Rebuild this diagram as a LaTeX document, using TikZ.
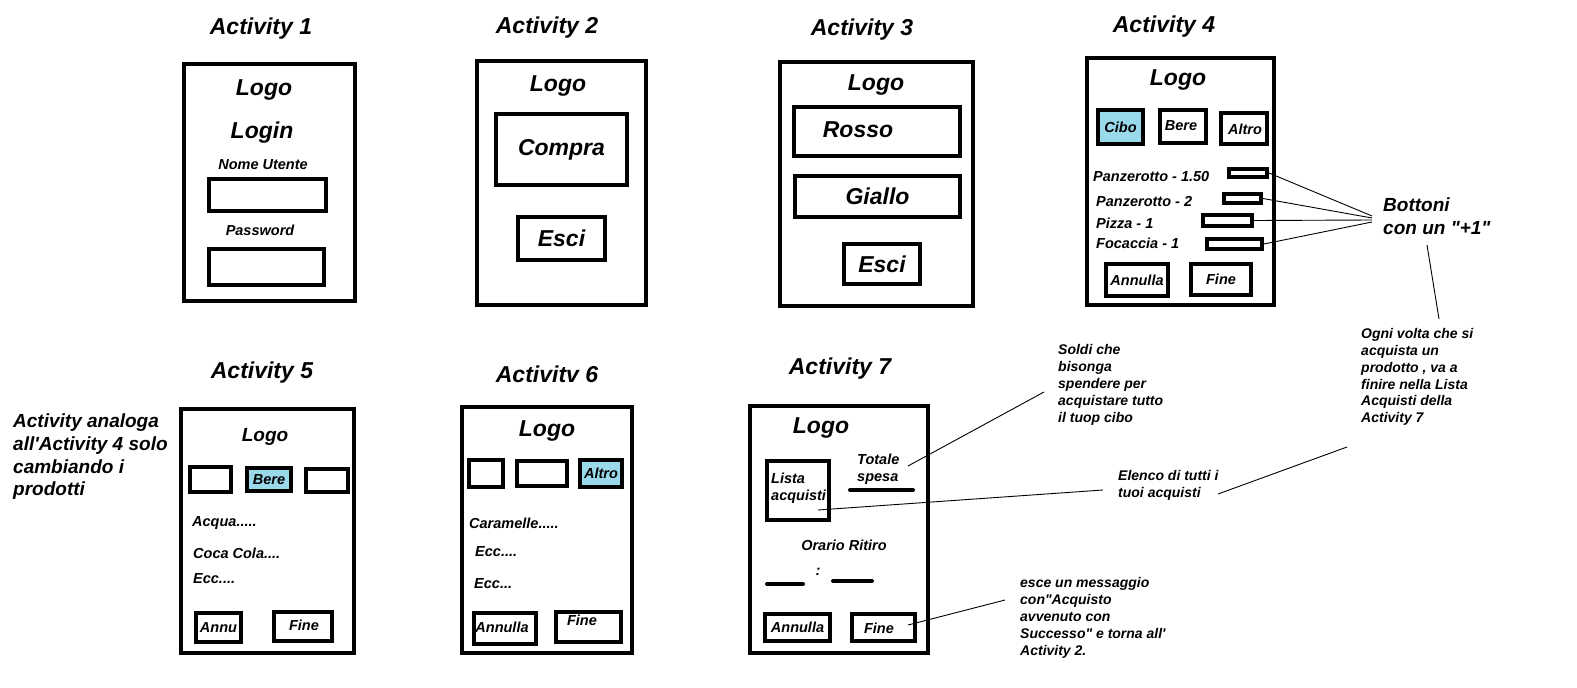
\documentclass[tikz,border=0pt]{standalone}
\usepackage{fontspec}
\setmainfont[Ligatures=TeXOff]{Liberation Sans}
\definecolor{selfill}{HTML}{99D9EA}
\begin{document}
\begin{tikzpicture}[x=1pt,y=-1pt,
  screen/.style={draw, line width=4pt, inner sep=0pt},
  btn/.style={draw, line width=4pt, inner sep=0pt, fill=white, font=\bfseries\itshape\fontsize{14.5}{17}\selectfont},
  bigbtn/.style={btn, font=\bfseries\itshape\fontsize{23}{27}\selectfont},
  selbtn/.style={btn, fill=selfill},
  sm/.style={inner sep=0pt, font=\bfseries\itshape\fontsize{14.5}{17}\selectfont},
  note/.style={inner sep=0pt, align=left, anchor=west, font=\bfseries\itshape\fontsize{14}{16.9}\selectfont},
  mid/.style={inner sep=0pt, font=\bfseries\itshape\fontsize{19}{22.7}\selectfont},
  big/.style={inner sep=0pt, font=\bfseries\itshape\fontsize{23}{27}\selectfont},
  lead/.style={line width=0.9pt},
  bar/.style={line width=4pt, line cap=round}
]
\useasboundingbox (0,0) rectangle (1577,688);

% ---------- Activity 1 ----------
\node[big] (t1) at (261,29) {Activity 1};
\node[screen, minimum width=171pt, minimum height=237pt] (s1) at (269.5,182.5) {};
\node[big] (l1) at (264,90) {Logo};
\node[big] (login) at (262,133) {Login};
\node[sm] (nu) at (263,165) {Nome Utente};
\node[btn, minimum width=117pt, minimum height=32pt] (f1) at (267.5,195) {};
\node[sm] (pw) at (260,230) {Password};
\node[btn, minimum width=115pt, minimum height=36pt] (f2) at (266.5,267) {};

% ---------- Activity 2 ----------
\node[big] (t2) at (547,28) {Activity 2};
\node[screen, minimum width=169pt, minimum height=244pt] (s2) at (561.5,183) {};
\node[big] (l2) at (558,86) {Logo};
\node[bigbtn, minimum width=131pt, minimum height=71pt] (compra) at (561.5,149.5) {Compra};
\node[bigbtn, minimum width=87pt, minimum height=43pt] (esci2) at (561.5,238.5) {Esci};

% ---------- Activity 3 ----------
\node[big] (t3) at (862,30) {Activity 3};
\node[screen, minimum width=193pt, minimum height=244pt] (s3) at (876.5,184) {};
\node[big] (l3) at (876,85) {Logo};
\node[btn, minimum width=166pt, minimum height=49pt] (rosso) at (877,131.5) {};
\node[big] (rossot) at (858,130) {Rosso};
\node[bigbtn, minimum width=165pt, minimum height=41pt] (giallo) at (877.5,196.5) {Giallo};
\node[bigbtn, minimum width=76pt, minimum height=40pt] (esci3) at (882,264) {Esci};

% ---------- Activity 4 ----------
\node[big] (t4) at (1164,27) {Activity 4};
\node[screen, minimum width=187pt, minimum height=247pt] (s4) at (1180.5,181.5) {};
\node[big] (l4) at (1178,80) {Logo};
\node[selbtn, minimum width=45pt, minimum height=34pt] (cibo) at (1120.5,127) {Cibo};
\node[btn, minimum width=46pt, minimum height=33pt] (bere4) at (1183,126.5) {};
\node[sm] (beret) at (1181,126) {Bere};
\node[btn, minimum width=46pt, minimum height=31pt] (altro4) at (1244,128.5) {};
\node[sm] (altrot) at (1245,129) {Altro};
\node[sm, anchor=west] (p1) at (1093,177) {Panzerotto - 1.50};
\node[sm, anchor=west] (p2) at (1096,202) {Panzerotto - 2};
\node[sm, anchor=west] (p3) at (1096,223) {Pizza - 1};
\node[sm, anchor=west] (p4) at (1096,243) {Focaccia - 1};
\node[btn, minimum width=38pt, minimum height=8pt] (b1) at (1248,173) {};
\node[btn, minimum width=37pt, minimum height=9pt] (b2) at (1242.5,198.5) {};
\node[btn, minimum width=49pt, minimum height=11pt] (b3) at (1227.5,220.5) {};
\node[btn, minimum width=55pt, minimum height=10pt] (b4) at (1234.5,244) {};
\node[btn, minimum width=62pt, minimum height=32pt] (ann4) at (1137,280) {Annulla};
\node[btn, minimum width=60pt, minimum height=31pt] (fine4) at (1221,279.5) {Fine};

\node[mid, align=left, anchor=west] (bott) at (1383,216.5) {Bottoni\\con un "+1"};
\coordinate (bc1) at (1372,216);
\coordinate (bc2) at (1372,218);
\coordinate (bc3) at (1372,220);
\coordinate (bc4) at (1372,222);
\draw[lead] (b1.east) -- (bc1);
\draw[lead] (b2.east) -- (bc2);
\draw[lead] (b3.east) -- (bc3);
\draw[lead] (b4.east) -- (bc4);

\node[note] (ogni) at (1361,377) {Ogni volta che si\\acquista un\\prodotto , va a\\finire nella Lista\\Acquisti della\\Activity 7};
\coordinate (bo1) at (1427,245);
\coordinate (bo2) at (1439,319);
\draw[lead] (bo1) -- (bo2);

% ---------- Activity 5 ----------
\node[mid, align=left, anchor=west] (an5) at (13,457) {Activity analoga\\all'Activity 4 solo\\cambiando i\\prodotti};
\node[big] (t5) at (262,373) {Activity 5};
\node[screen, minimum width=173pt, minimum height=244pt] (s5) at (267.5,531) {};
\node[mid] (l5) at (265,437) {Logo};
\node[btn, minimum width=41pt, minimum height=25pt] (c51) at (210.5,479.5) {};
\node[selbtn, minimum width=44pt, minimum height=23pt] (bere5) at (269,479.5) {Bere};
\node[btn, minimum width=42pt, minimum height=23pt] (c53) at (327,480.5) {};
\node[sm, anchor=west] (i51) at (192,523) {Acqua.....};
\node[sm, anchor=west] (i52) at (193,553) {Coca Cola....};
\node[sm, anchor=west] (i53) at (193,579) {Ecc....};
\node[btn, minimum width=45pt, minimum height=29pt] (ann5) at (218.5,627.5) {Annu};
\node[btn, minimum width=58pt, minimum height=29pt] (fine5) at (303,626.5) {};
\node[sm] (fine5t) at (304,625) {Fine};

% ---------- Activity 6 ----------
\node[big] (t6) at (547,374) {Activitv 6};
\node[screen, minimum width=170pt, minimum height=246pt] (s6) at (547,530) {};
\node[big] (l6) at (547,431) {Logo};
\node[btn, minimum width=34pt, minimum height=27pt] (c61) at (486,473.5) {};
\node[btn, minimum width=50pt, minimum height=25pt] (c62) at (542,473.5) {};
\node[selbtn, minimum width=42pt, minimum height=27pt] (altro6) at (601,473.5) {Altro};
\node[sm, anchor=west] (i61) at (469,523) {Caramelle.....};
\node[sm, anchor=west] (i62) at (475,552) {Ecc....};
\node[sm, anchor=west] (i63) at (474,584) {Ecc...};
\node[btn, minimum width=62pt, minimum height=31pt] (ann6) at (505,628.5) {};
\node[sm] (ann6t) at (502,627) {Annulla};
\node[btn, minimum width=65pt, minimum height=30pt] (fine6) at (588.5,627) {};
\node[sm] (fine6t) at (582,620) {Fine};

% ---------- Activity 7 ----------
\node[big] (t7) at (840,369) {Activity 7};
\node[screen, minimum width=178pt, minimum height=247pt] (s7) at (839,529.5) {};
\node[big] (l7) at (821,428) {Logo};
\node[btn, minimum width=62pt, minimum height=59pt] (lista) at (798,490.5) {};
\node[sm, align=left, anchor=west] (listat) at (771,488.5) {Lista\\acquisti};
\node[sm, align=left, anchor=west] (tot) at (857,469.5) {Totale\\spesa};
\coordinate (tb1) at (850,490);
\coordinate (tb2) at (913,490);
\draw[bar] (tb1) -- (tb2);
\node[sm] (orario) at (844,545) {Orario Ritiro};
\coordinate (d1a) at (767,584);
\coordinate (d1b) at (803,584);
\coordinate (d2a) at (833,581);
\coordinate (d2b) at (872,581);
\draw[bar] (d1a) -- (d1b);
\draw[bar] (d2a) -- (d2b);
\node[sm] (colon) at (818,572) {:};
\node[btn, minimum width=65pt, minimum height=27pt] (ann7) at (797.5,627.5) {Annulla};
\node[btn, minimum width=63pt, minimum height=27pt] (fine7) at (883.5,627.5) {};
\node[sm] (fine7t) at (879,628) {Fine};

\node[note] (soldi) at (1058,385) {Soldi che\\bisonga\\spendere per\\acquistare tutto\\il tuop cibo};
\node[note] (elenco) at (1118,485.5) {Elenco di tutti i\\tuoi acquisti};
\node[note] (esce) at (1020,618) {esce un messaggio\\con"Acquisto\\avvenuto con\\Successo" e torna all'\\Activity 2.};

\coordinate (ct1) at (908,466);
\coordinate (ct2) at (1044,392);
\draw[lead] (ct1) -- (ct2);
\coordinate (cl1) at (818,510);
\coordinate (cl2) at (1103,490);
\draw[lead] (cl1) -- (cl2);
\coordinate (cf1) at (908,625);
\coordinate (cf2) at (1005,600);
\draw[lead] (cf1) -- (cf2);
\coordinate (ce1) at (1347,447);
\coordinate (ce2) at (1218,494);
\draw[lead] (ce1) -- (ce2);
\end{tikzpicture}
\end{document}
